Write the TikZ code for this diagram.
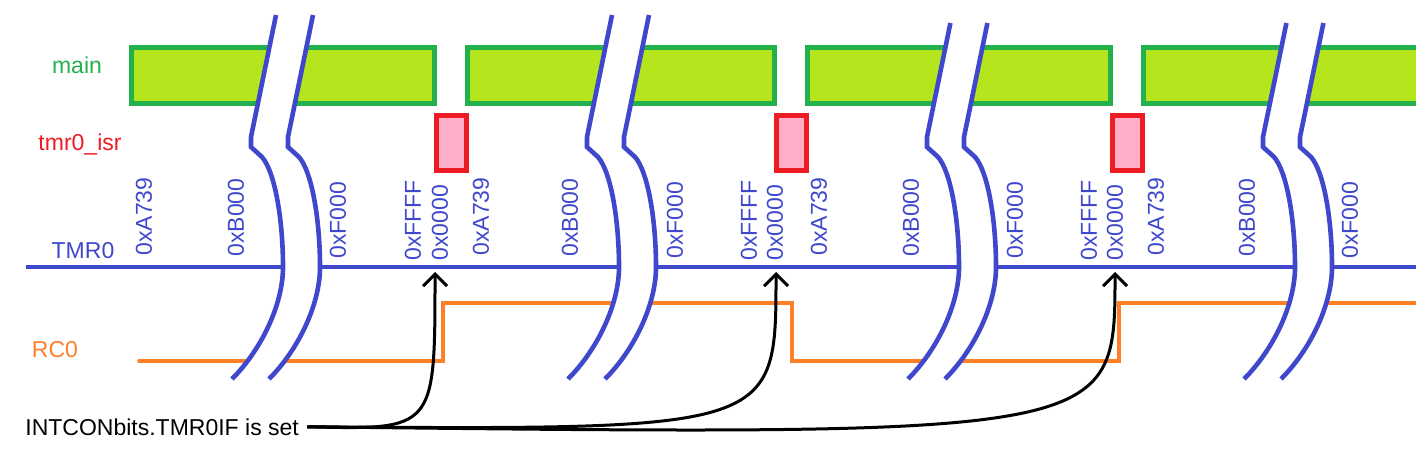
\documentclass[tikz,border=0pt]{standalone}
\usepackage{fontspec}
\setmainfont{Liberation Sans}
\usetikzlibrary{arrows.meta}
\definecolor{mainfill}{HTML}{B5E61D}
\definecolor{maingreen}{HTML}{22B14C}
\definecolor{isrfill}{HTML}{FFAEC9}
\definecolor{isrred}{HTML}{ED1C24}
\definecolor{tmrblue}{HTML}{3F48CC}
\definecolor{rcorange}{HTML}{FF7F27}

\begin{document}
\begin{tikzpicture}[x=0.5pt, y=-0.5pt,
    every node/.style={font=\fontsize{11.5}{13}\selectfont},
    mainbar/.style={draw=maingreen, fill=mainfill, line width=2.5pt},
    isrbox/.style={draw=isrred, fill=isrfill, line width=2.5pt},
    tmrline/.style={draw=tmrblue, line width=2.2pt},
    rcline/.style={draw=rcorange, line width=1.8pt, line cap=round},
    brk/.style={draw=tmrblue, line width=2.3pt},
    hexlbl/.style={text=tmrblue, rotate=90, anchor=west, inner sep=0pt},
    flagarrow/.style={draw=black, line width=1.5pt, -{Straight Barb[length=6pt, width=12pt]}}]
    \useasboundingbox (0,0) rectangle (1416,455);
    \clip (0,0) rectangle (1416,455);

    % signal names
    \node[text=maingreen, anchor=base] (lmain) at (77,73) {main};
    \node[text=isrred, anchor=base] (lisr) at (80,150) {tmr0\_isr};
    \node[text=tmrblue, anchor=base] (ltmr) at (83,258) {TMR0};
    \node[text=rcorange, anchor=base] (lrc) at (55,357) {RC0};

    % main loop and interrupt routine
    \foreach \a/\b in {131.5/434.5, 467.5/774.5, 807.5/1110.5, 1143.5/1430}
      \draw[mainbar] (\a,47.5) rectangle (\b,103.5);
    \foreach \a in {436.5, 776.5, 1112.5}
      \draw[isrbox] (\a,115.5) rectangle (\a+30,170.5);

    % timer value and output pin
    \draw[tmrline] (26,267) -- (1416,267);
    \draw[rcline] (139,361) -- (443,361) -- (443,303) -- (792,303) -- (792,361)
      -- (1119,361) -- (1119,303) -- (1430,303);

    \foreach \x/\v/\b [count=\i] in {144/A739/256, 236/B000/257, 338/F000/259, 413/FFFF/261, 440/0000/261,
        481/A739/256, 570/B000/257, 675/F000/259, 749/FFFF/261, 775/0000/261,
        819/A739/256, 911/B000/257, 1015/F000/259, 1089/FFFF/261, 1115/0000/261,
        1156/A739/256, 1247/B000/257, 1350/F000/259}
      \node[hexlbl] (h\i) at (\x,\b) {0x\v};

    % time breaks
    \foreach \k/\t/\d in {251/15/25, 587/15/25, 927/23/23.4, 1263/23/23.4}{
      \fill[white] (\k+\d,\t) -- (\k,137) -- (\k,147) -- (\k+11,157)
        .. controls (\k+24,172) and (\k+32,220) .. (\k+32,267)
        .. controls (\k+32,305) and (\k+10,350) .. (\k-19,379)
        -- (\k+18,379) .. controls (\k+47,350) and (\k+69,305) .. (\k+69,267)
        .. controls (\k+69,220) and (\k+61,172) .. (\k+48,157)
        -- (\k+37,147) -- (\k+37,137) -- (\k+37+\d,\t) -- cycle;
      \foreach \s in {0,37}
        \draw[brk] (\k+\s+\d,\t) -- (\k+\s,137) -- (\k+\s,147) -- (\k+\s+11,157)
          .. controls (\k+\s+24,172) and (\k+\s+32,220) .. (\k+\s+32,267)
          .. controls (\k+\s+32,305) and (\k+\s+10,350) .. (\k+\s-19,379);
    }

    % overflow flag
    \node[anchor=base west, inner xsep=4pt] (flag) at (17,435) {INTCONbits.TMR0IF is set};
    \coordinate (ovf1) at (435,272);
    \coordinate (ovf2) at (776,272);
    \coordinate (ovf3) at (1115,272);
    \draw[flagarrow] (flag.east) .. controls (435,430) .. (ovf1);
    \draw[flagarrow] (flag.east) .. controls (776,430) .. (ovf2);
    \draw[flagarrow] (flag.east) .. controls (1115,436) .. (ovf3);
\end{tikzpicture}
\end{document}
